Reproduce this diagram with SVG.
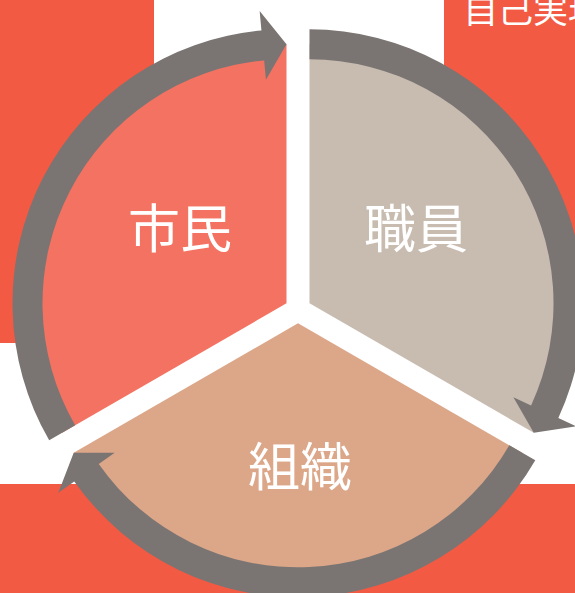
<svg xmlns="http://www.w3.org/2000/svg" xmlns:xlink="http://www.w3.org/1999/xlink" width="575" height="593" viewBox="0 0 575 593">
<style>
.bg{fill:#F25A43}
.lbl{fill:#FFFFFF;font-family:"Noto Sans CJK JP","Noto Sans CJK SC",sans-serif;text-anchor:middle;font-size:52px}
.ring{fill:#7A7573}
</style>
<defs>
<path id="wedge" d="M309.5,303.36 L309.5,44.36 A259,259 0 0 1 533.8,432.86 Z"/>
<path id="arc" d="M309.5,29.36 A274,274 0 0 1 558.33,418.07 L576.04,426.24 L533.8,432.86 L513.38,397.35 L531.09,405.51 A244,244 0 0 0 309.5,59.36 Z"/>
</defs>
<rect width="575" height="593" fill="#FFFFFF"/>
<g id="background">
<rect class="bg" x="0" y="0" width="154" height="343"/>
<rect class="bg" x="444" y="0" width="131" height="343"/>
<rect class="bg" x="0" y="484" width="575" height="109"/>
<text x="463" y="23" fill="#FFFFFF" font-family="'Noto Sans CJK JP','Noto Sans CJK SC',sans-serif" font-size="35">自己実現</text>
</g>
<g id="node-shokuin">
<use xlink:href="#wedge" fill="#C8BCB0"/>
<text class="lbl" x="416" y="248">職員</text>
</g>
<g id="node-soshiki">
<use xlink:href="#wedge" fill="#DCA688" transform="rotate(120 298 310)"/>
<text class="lbl" x="300" y="486">組織</text>
</g>
<g id="node-shimin">
<use xlink:href="#wedge" fill="#F47261" transform="rotate(240 298 310)"/>
<text class="lbl" x="180" y="248">市民</text>
</g>
<g id="connectors">
<use xlink:href="#arc" class="ring"/>
<use xlink:href="#arc" class="ring" transform="rotate(120 298 310)"/>
<use xlink:href="#arc" class="ring" transform="rotate(240 298 310)"/>
</g>
</svg>
